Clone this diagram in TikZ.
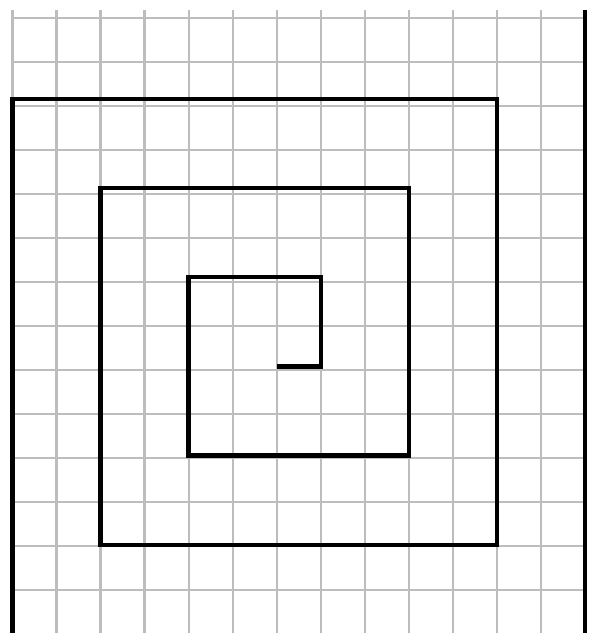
\documentclass[tikz,border=0pt]{standalone}
\usepackage{xcolor}
\usepackage{tikz}
\definecolor{gridgray}{gray}{0.74}

\begin{document}
\begin{tikzpicture}[x=1cm, y=1.0127cm]
	\def\gw{13}
	\def\gh{14}

	\useasboundingbox (-0.284, 0.022) rectangle (13.113, 14.22);

	% squared paper
	\draw[gridgray, line width=1.4pt] (0, 0) grid (\gw, \gh);

	% the spiral, from the centre outwards
	\draw[black, line width=2.8pt, line join=miter]
		(6, 6) -- (7, 6) -- (7, 8) -- (4, 8) -- (4, 4) -- (9, 4) -- (9, 10)
		-- (2, 10) -- (2, 2) -- (11, 2) -- (11, 12) -- (0, 12) -- (0, 0);
	\draw[black, line width=2.8pt] (\gw, \gh) -- (\gw, 0);

\end{tikzpicture}
\end{document}
